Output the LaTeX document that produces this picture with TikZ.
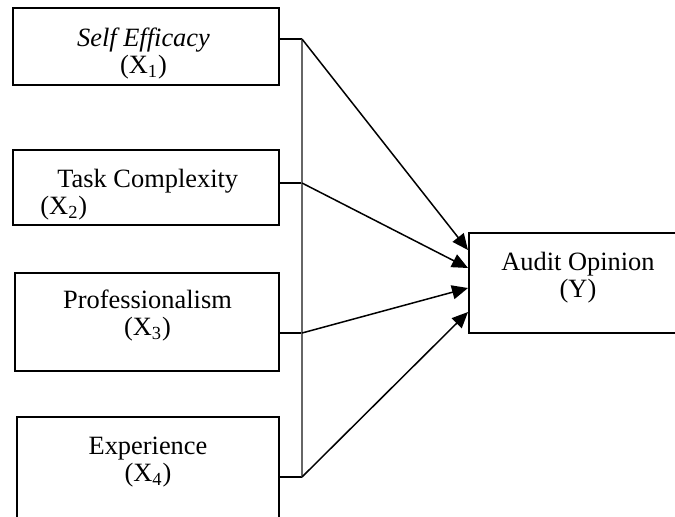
\documentclass[tikz,border=0pt]{standalone}
\usepackage{fontspec}
\setmainfont{Liberation Serif}
\usetikzlibrary{arrows.meta}

\begin{document}
\begin{tikzpicture}[x=0.5pt,y=-0.5pt,
		var/.style={draw,line width=1pt,rectangle,inner sep=0pt},
		txt/.style={align=center,inner sep=0pt,font=\fontsize{13.2}{13.5}\selectfont},
		link/.style={line width=0.75pt},
		arr/.style={link,-{Triangle[length=8pt,width=7pt]}}]
		\useasboundingbox (0,0) rectangle (675,516);
		\clip (0,0) rectangle (675,516);
		
		\node[var,minimum width=133pt,minimum height=38.5pt] (x1) at (146,46.5) {};
		\node[var,minimum width=133pt,minimum height=37.5pt] (x2) at (146,187.5) {};
		\node[var,minimum width=132pt,minimum height=49pt] (x3) at (147,322) {};
		\node[var,minimum width=131pt,minimum height=71.5pt] (x4) at (148,488.5) {};
		\node[var,minimum width=109pt,minimum height=50pt] (y) at (578,283) {};
		
		\node[txt] (x1t) at (143.5,54) {\textit{Self Efficacy}\\(X\textsubscript{1})};
		\node[txt,align=left,anchor=west] (x2t) at (40,195) {\hspace{8.5pt}Task Complexity\\(X\textsubscript{2})};
		\node[txt] (x3t) at (147.5,316) {Professionalism\\(X\textsubscript{3})};
		\node[txt] (x4t) at (148,462) {Experience\\(X\textsubscript{4})};
		\node[txt] (yt) at (578,278) {Audit Opinion\\(Y)};
		
		\coordinate (b1) at (302,39);
		\coordinate (b2) at (302,183);
		\coordinate (b3) at (302,333);
		\coordinate (b4) at (302,477);
		
		\draw[link] (x1.east |- b1) -- (b1);
		\draw[link] (x2.east |- b2) -- (b2);
		\draw[link] (x3.east |- b3) -- (b3);
		\draw[link] (x4.east |- b4) -- (b4);
		\draw[link,black!60] (b1) -- (b4);
		
		\draw[arr] (b1) -- ([yshift=16.5pt]y.west);
		\draw[arr] (b2) -- ([yshift=7.5pt]y.west);
		\draw[arr] (b3) -- ([yshift=-2.5pt]y.west);
		\draw[arr] (b4) -- ([yshift=-14.5pt]y.west);
\end{tikzpicture}
\end{document}
